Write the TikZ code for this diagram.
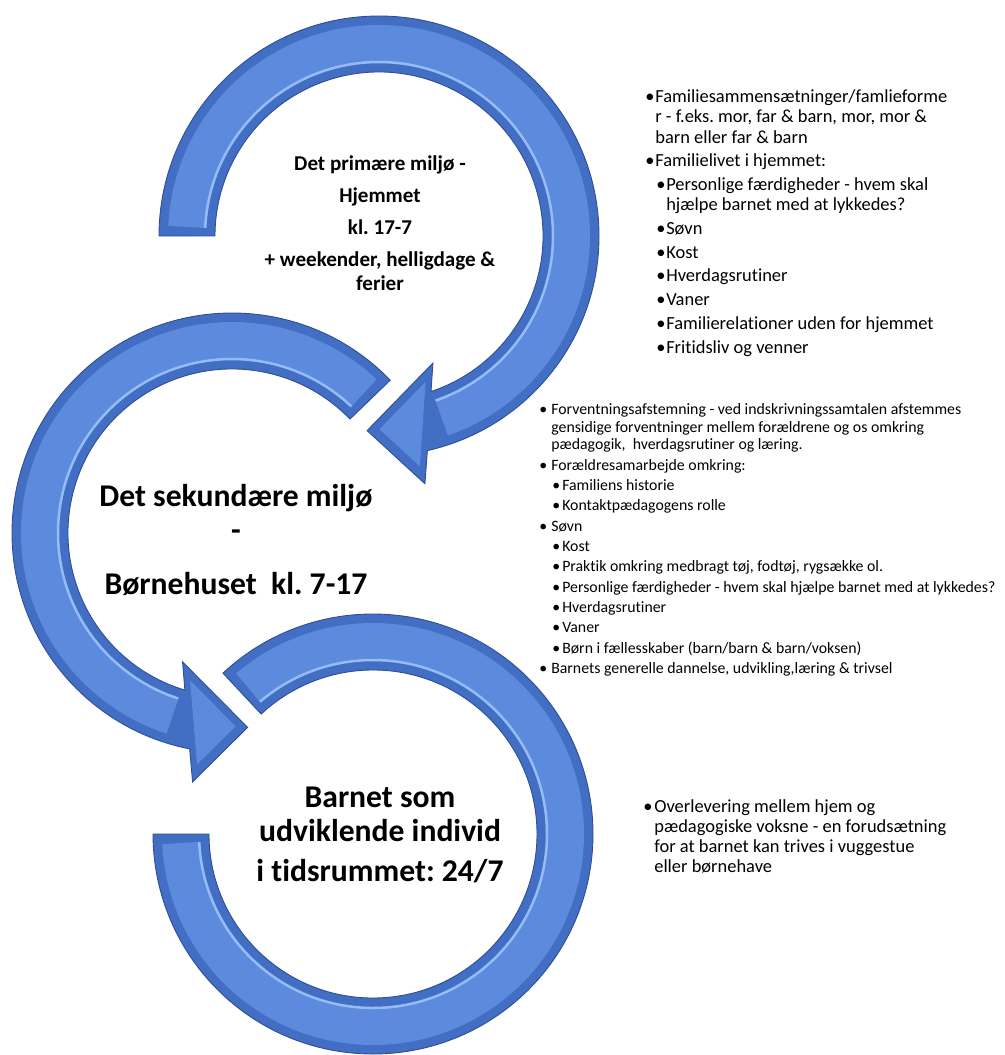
\documentclass[tikz,border=0pt]{standalone}
\usepackage{fontspec}
\setmainfont{Carlito}[Ligatures=NoCommon]
\usepackage{xcolor}
\definecolor{ringedge}{RGB}{66,110,196}
\definecolor{ringface}{RGB}{92,138,220}
\definecolor{ringlight}{RGB}{150,188,245}
\definecolor{ringline}{RGB}{45,78,150}
\usetikzlibrary{calc}
\frenchspacing

\newcommand{\bulpt}[2]{\hspace*{#1}\makebox[#2][l]{•}}
\newcommand{\contpt}[1]{\hspace*{#1}}

\begin{document}
\begin{tikzpicture}[x=0.2mm, y=0.2mm,
    ring/.style={fill=ringedge, draw=ringline, line width=0.5pt},
    face/.style={ringface, line width=7.6mm},
    shine/.style={ringlight, line width=0.5mm},
    title/.style={font=\bfseries\fontsize{18}{19.3}\selectfont, align=center,
        inner sep=0, anchor=north},
    list/.style={align=left, inner sep=0, anchor=north west},
]

\useasboundingbox (0,0) rectangle (1004,-1055);

%% --- centres of the three rings ---
\coordinate (c1) at (379,-236);
\coordinate (c2) at (232,-533);
\coordinate (c3) at (373,-834);

%% --- ring 3 (bottom, open end) ---
\draw[ring] ($(c3)+(133:220)$) arc[start angle=133, end angle=-180, radius=44mm]
    -- ($(c3)+(180:164)$) arc[start angle=-180, end angle=133, radius=32.8mm] -- cycle;
\draw[face] ($(c3)+(130.5:192)$) arc[start angle=130.5, end angle=-177.3, radius=38.4mm];
\draw[shine] ($(c3)+(130.5:174)$) arc[start angle=130.5, end angle=-177.3, radius=34.8mm];

%% --- ring 2 (middle) ---
\coordinate (h2b) at ($(c2)+(261:252)$);
\coordinate (h2t) at ($(c2)+(274.6:195)$);
\coordinate (h2a) at ($(c2)+(249:138)$);
\coordinate (h2g) at ($0.3333*(h2a)+0.3333*(h2b)+0.3333*(h2t)$);
\draw[ring] ($(c2)+(44:220)$) arc[start angle=44, end angle=258.9, radius=44mm]
    -- (h2b) -- (h2t) -- (h2a)
    -- ($(c2)+(253.3:164)$) arc[start angle=253.3, end angle=44, radius=32.8mm] -- cycle;
\draw[face] ($(c2)+(46.7:192)$) arc[start angle=46.7, end angle=252, radius=38.4mm];
\draw[shine] ($(c2)+(46.7:174)$) arc[start angle=46.7, end angle=252, radius=34.8mm];
\fill[ringface] ($(h2b)!0.3!(h2g)$) -- ($(h2t)!0.3!(h2g)$) -- ($(h2a)!0.3!(h2g)$) -- cycle;

%% --- ring 1 (top) ---
\coordinate (h1b) at ($(c1)+(-79.5:252)$);
\coordinate (h1t) at ($(c1)+(-93.5:195)$);
\coordinate (h1a) at ($(c1)+(-67:138)$);
\coordinate (h1g) at ($0.3333*(h1a)+0.3333*(h1b)+0.3333*(h1t)$);
\draw[ring] ($(c1)+(180:220)$) arc[start angle=180, end angle=-77.3, radius=44mm]
    -- (h1b) -- (h1t) -- (h1a)
    -- ($(c1)+(-71.5:164)$) arc[start angle=-71.5, end angle=180, radius=32.8mm] -- cycle;
\draw[face] ($(c1)+(177.3:192)$) arc[start angle=177.3, end angle=-71, radius=38.4mm];
\draw[shine] ($(c1)+(177.3:174)$) arc[start angle=177.3, end angle=-71, radius=34.8mm];
\fill[ringface] ($(h1b)!0.3!(h1g)$) -- ($(h1t)!0.3!(h1g)$) -- ($(h1a)!0.3!(h1g)$) -- cycle;

%% --- ring titles ---
\node[title, font=\bfseries\fontsize{12}{13.6}\selectfont] (prim) at (380,-155)
    {Det primære miljø -\\[4.7pt] Hjemmet\\[4.7pt] kl. 17-7\\[4.7pt]
     + weekender, helligdage \&\\ ferier};
\node[title] (sek) at (236,-484)
    {Det sekundære miljø\\ -\\[11.5pt] Børnehuset\ \ kl. 7-17};
\node[title] (barn) at (380,-787)
    {Barnet som\\ udviklende individ\\[3.5pt] i tidsrummet: 24/7};

%% --- list: the home ---
\node[list, font=\fontsize{10.5}{11.62}\selectfont] (hjem) at (645,-89) {%
    \bulpt{0pt}{5.67pt}Familiesammensætninger/famlieforme\\
    \contpt{5.67pt}r - f.eks. mor, far \& barn, mor, mor \&\\
    \contpt{5.67pt}barn eller far \& barn\\[1.87pt]
    \bulpt{0pt}{5.67pt}Familielivet i hjemmet:\\[1.87pt]
    \bulpt{6.24pt}{5.67pt}Personlige færdigheder - hvem skal\\
    \contpt{11.9pt}hjælpe barnet med at lykkedes?\\[1.87pt]
    \bulpt{6.24pt}{5.67pt}Søvn\\[1.87pt]
    \bulpt{6.24pt}{5.67pt}Kost\\[1.87pt]
    \bulpt{6.24pt}{5.67pt}Hverdagsrutiner\\[1.87pt]
    \bulpt{6.24pt}{5.67pt}Vaner\\[1.87pt]
    \bulpt{6.24pt}{5.67pt}Familierelationer uden for hjemmet\\[1.87pt]
    \bulpt{6.24pt}{5.67pt}Fritidsliv og venner};

%% --- list: the day care ---
\node[list, font=\fontsize{9}{9.92}\selectfont] (hus) at (539,-403.5) {%
    \bulpt{0pt}{6.8pt}Forventningsafstemning - ved indskrivningssamtalen afstemmes\\
    \contpt{6.8pt}gensidige forventninger mellem forældrene og os omkring\\
    \contpt{6.8pt}pædagogik,\ \ hverdagsrutiner og læring.\\[1.65pt]
    \bulpt{0pt}{6.8pt}Forældresamarbejde omkring:\\[1.65pt]
    \bulpt{7.37pt}{5.67pt}Familiens historie\\[1.65pt]
    \bulpt{7.37pt}{5.67pt}Kontaktpædagogens rolle\\[1.65pt]
    \bulpt{0pt}{6.8pt}Søvn\\[1.65pt]
    \bulpt{7.37pt}{5.67pt}Kost\\[1.65pt]
    \bulpt{7.37pt}{5.67pt}Praktik omkring medbragt tøj, fodtøj, rygsække ol.\\[1.65pt]
    \bulpt{7.37pt}{5.67pt}Personlige færdigheder - hvem skal hjælpe barnet med at lykkedes?\\[1.65pt]
    \bulpt{7.37pt}{5.67pt}Hverdagsrutiner\\[1.65pt]
    \bulpt{7.37pt}{5.67pt}Vaner\\[1.65pt]
    \bulpt{7.37pt}{5.67pt}Børn i fællesskaber (barn/barn \& barn/voksen)\\[1.65pt]
    \bulpt{0pt}{6.8pt}Barnets generelle dannelse, udvikling,læring \& trivsel};

%% --- list: the child ---
\node[list, font=\fontsize{10.5}{11.34}\selectfont] (overl) at (643,-799.6) {%
    \bulpt{0pt}{6.24pt}Overlevering mellem hjem og\\
    \contpt{6.24pt}pædagogiske voksne - en forudsætning\\
    \contpt{6.24pt}for at barnet kan trives i vuggestue\\
    \contpt{6.24pt}eller børnehave};

\end{tikzpicture}
\end{document}
